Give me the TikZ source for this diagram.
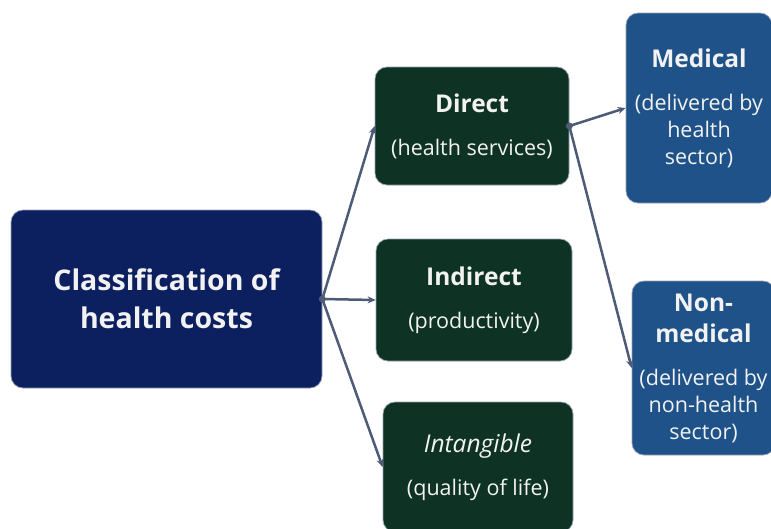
\documentclass[tikz,border=0pt]{standalone}
\usepackage{fontspec}
\setmainfont{Open Sans}
\usetikzlibrary{arrows.meta}
\definecolor{navy}{RGB}{12,32,96}
\definecolor{darkgreen}{RGB}{14,50,35}
\definecolor{midblue}{RGB}{30,82,136}
\definecolor{boxedge}{RGB}{150,160,180}
\definecolor{boxtext}{RGB}{242,242,242}
\definecolor{arrowcol}{RGB}{78,90,118}
\newcommand{\ttlfont}{\bfseries\fontsize{24.5}{27}\selectfont}
\begin{document}
\begin{tikzpicture}[x=1pt,y=-1pt,
  box/.style={rounded corners=12pt, draw=boxedge, line width=0.7pt, text=boxtext, align=center, inner sep=0pt},
  mainbox/.style={box, fill=navy, minimum width=311pt, minimum height=178pt, font=\bfseries\fontsize{28.5}{38}\selectfont},
  greenbox/.style={box, fill=darkgreen, font=\fontsize{21.5}{27}\selectfont},
  bluebox/.style={box, fill=midblue, font=\fontsize{21.5}{27}\selectfont},
  arr/.style={draw=arrowcol, line width=2.5pt, -{Stealth[length=8pt,width=7pt]}},
  junction/.style={fill=arrowcol}
]
\useasboundingbox (0,0) rectangle (771,528);
\clip (0,0) rectangle (771,528);
\fill[white] (0,0) rectangle (771,528);

\node[mainbox] (C) at (166.5,299) {Classification of\\health costs};

\node[greenbox, minimum width=194pt, minimum height=118pt] (D) at (472,126)
  {{\ttlfont Direct}\\[16pt](health services)};
\node[greenbox, minimum width=196pt, minimum height=122pt] (I) at (474,300)
  {{\ttlfont Indirect}\\[16pt](productivity)};
\node[greenbox, minimum width=190pt, minimum height=130pt] (T) at (478,467)
  {{\itshape\fontsize{24.5}{27}\selectfont Intangible}\\[16pt](quality of life)};

\node[bluebox, minimum width=146pt, minimum height=190pt] (M) at (699,108)
  {{\ttlfont Medical}\\[16pt](delivered by\\health\\sector)};
\node[bluebox, minimum width=143pt, minimum height=174pt] (N) at (703.5,368)
  {{\ttlfont Non-}\\[4pt]{\ttlfont medical}\\[16pt](delivered by\\non-health\\sector)};

\coordinate (J1) at (C.east);
\coordinate (J2) at (D.east);
\draw[arr] (J1) -- (D.west);
\draw[arr] (J1) -- (I.west);
\draw[arr] (J1) -- (T.west);
\draw[arr] (J2) -- (M.west);
\draw[arr] (J2) -- (N.west);
\fill[junction] (J1) circle (3.5pt);
\fill[junction] (J2) circle (3.5pt);
\end{tikzpicture}
\end{document}
